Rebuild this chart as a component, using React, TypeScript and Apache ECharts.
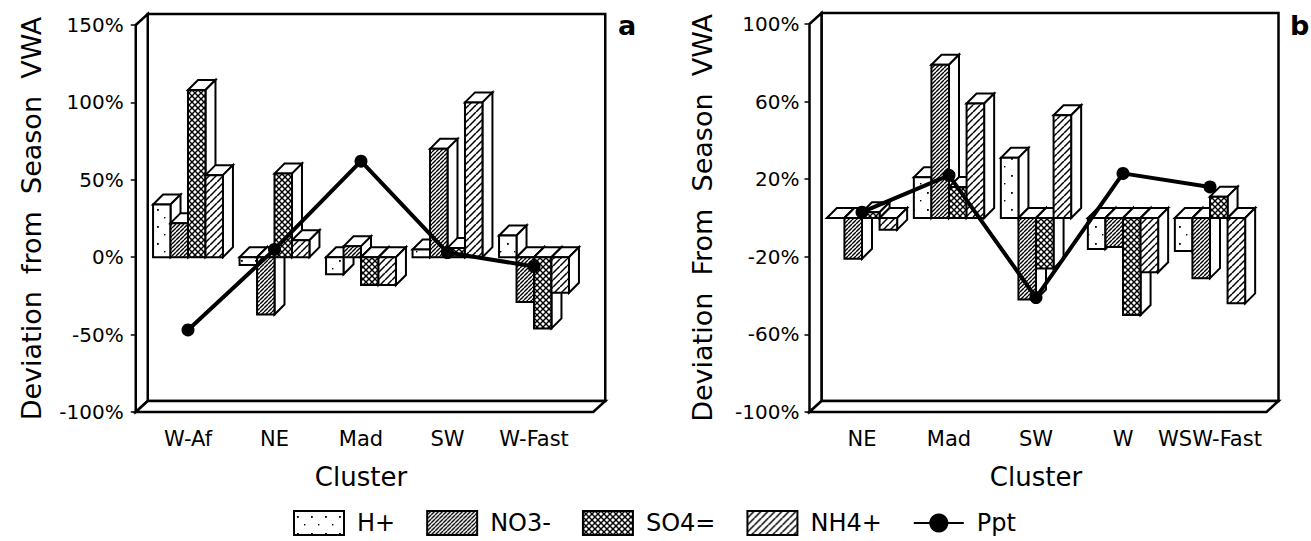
import { useEffect, useRef } from 'react';
import * as echarts from 'echarts';

const clustersA = ['W-Af', 'NE', 'Mad', 'SW', 'W-Fast'];
const hA = [34, -5, -11, 5, 14];
const no3A = [22, -37, 7, 70, -29];
const so4A = [108, 54, -18, 6, -46];
const nh4A = [53, 11, -18, 100, -23];
const pptA = [-47, 5, 62, 3, -6];

const clustersB = ['NE', 'Mad', 'SW', 'W', 'WSW-Fast'];
const hB = [0, 21, 31, -16, -17];
const no3B = [-21, 79, -42, -15, -31];
const so4B = [3, 16, -26, -50, 11];
const nh4B = [-6, 59, 53, -28, -44];
const pptB = [3, 22, -41, 23, 16];

const ionNames = ['H+', 'NO3-', 'SO4=', 'NH4+'];
const pptName = 'Ppt';
const yTicksB = [-100, -60, -20, 20, 60, 100];

const FONT = 'DejaVu Sans';

function makePattern(kind: string): any {
  const w = kind === 'h' ? 14 : kind === 'no3' ? 4 : kind === 'so4' ? 6 : 7;
  const h = kind === 'h' ? 17 : w;
  const c = document.createElement('canvas');
  c.width = w;
  c.height = h;
  const ctx = c.getContext('2d') as CanvasRenderingContext2D;
  ctx.fillStyle = '#fff';
  ctx.fillRect(0, 0, w, h);
  ctx.strokeStyle = '#000';
  ctx.fillStyle = '#000';
  const slash = (lw: number) => {
    ctx.lineWidth = lw;
    for (const k of [-w, 0, w]) {
      ctx.beginPath();
      ctx.moveTo(k, w);
      ctx.lineTo(k + w, 0);
      ctx.stroke();
    }
  };
  const back = (lw: number) => {
    ctx.lineWidth = lw;
    for (const k of [-w, 0, w]) {
      ctx.beginPath();
      ctx.moveTo(k, 0);
      ctx.lineTo(k + w, w);
      ctx.stroke();
    }
  };
  if (kind === 'h') {
    ctx.fillRect(3, 5, 1.8, 1.8);
    ctx.fillRect(10, 13, 1.4, 1.4);
  } else if (kind === 'no3') {
    slash(1.35);
  } else if (kind === 'so4') {
    slash(1.45);
    back(1.45);
  } else {
    slash(1.5);
  }
  return { image: c, repeat: 'repeat', imageWidth: w, imageHeight: h };
}

export default function App() {
  const ref = useRef<HTMLDivElement>(null);
  useEffect(() => {
    if (!ref.current) return;
    const chart = echarts.init(ref.current, undefined, { renderer: 'svg' });
    const patterns = [makePattern('h'), makePattern('no3'), makePattern('so4'), makePattern('nh4')];

    const BDX = 10, BDY = -10;
    const barRender = (k: number) => (params: any, api: any) => {
      const ci = api.value(0);
      const v = api.value(1);
      const p0 = api.coord([ci, 0]);
      const p1 = api.coord([ci, v]);
      const band = api.size([1, 0])[0];
      const bw = band * 0.202;
      const x0 = p0[0] + (k - 2) * bw;
      const x1 = x0 + bw;
      const yT = Math.min(p0[1], p1[1]);
      const yB = Math.max(p0[1], p1[1]);
      const st = { stroke: '#000', lineWidth: 2, lineJoin: 'miter' };
      return {
        type: 'group',
        children: [
          { type: 'polygon', shape: { points: [[x0, yT], [x0 + BDX, yT + BDY], [x1 + BDX, yT + BDY], [x1, yT]] }, style: { ...st, fill: '#fff' } },
          { type: 'polygon', shape: { points: [[x1, yT], [x1 + BDX, yT + BDY], [x1 + BDX, yB + BDY], [x1, yB]] }, style: { ...st, fill: '#fff' } },
          { type: 'rect', shape: { x: x0, y: yT, width: bw, height: yB - yT }, style: { ...st, fill: patterns[k] } },
        ],
      };
    };

    const frameRender = (leftPad: number, rightPad: number) => (params: any) => {
      const cs = params.coordSys;
      const fx0 = cs.x - leftPad;
      const fx1 = cs.x + cs.width + rightPad;
      const yt = cs.y;
      const yb = cs.y + cs.height;
      const dx = 12, dy = -11;
      const st = { stroke: '#000', lineWidth: 2.5, fill: '#fff', lineJoin: 'miter' };
      return {
        type: 'group',
        children: [
          { type: 'rect', shape: { x: fx0 + dx, y: yt + dy, width: fx1 - fx0, height: yb - yt }, style: st },
          { type: 'polygon', shape: { points: [[fx0, yt], [fx0 + dx, yt + dy], [fx0 + dx, yb + dy], [fx0, yb]] }, style: st },
          { type: 'polygon', shape: { points: [[fx0, yb], [fx0 + dx, yb + dy], [fx1 + dx, yb + dy], [fx1, yb]] }, style: st },
        ],
      };
    };

    const panels = [
      { cats: clustersA, ions: [hA, no3A, so4A, nh4A], ppt: pptA, leftPad: 9, rightPad: 16 },
      { cats: clustersB, ions: [hB, no3B, so4B, nh4B], ppt: pptB, leftPad: 9, rightPad: 13 },
    ];

    const series: any[] = [];
    panels.forEach((p, gi) => {
      series.push({
        type: 'custom',
        name: 'frame' + gi,
        xAxisIndex: gi,
        yAxisIndex: gi,
        silent: true,
        clip: false,
        z: 1,
        renderItem: frameRender(p.leftPad, p.rightPad),
        data: [[0, 0]],
      });
      p.ions.forEach((vals, k) => {
        series.push({
          type: 'custom',
          name: ionNames[k],
          xAxisIndex: gi,
          yAxisIndex: gi,
          clip: false,
          z: 2,
          itemStyle: { color: patterns[k], borderColor: '#000', borderWidth: 2 },
          renderItem: barRender(k),
          encode: { x: 0, y: 1 },
          data: vals.map((v, i) => [i, v]),
        });
      });
      series.push({
        type: 'line',
        name: pptName,
        xAxisIndex: gi,
        yAxisIndex: gi,
        z: 5,
        symbol: 'circle',
        symbolSize: 13,
        lineStyle: { color: '#000', width: 4 },
        itemStyle: { color: '#000' },
        data: p.ppt,
      });
    });

    const axisText = { color: '#000', fontFamily: FONT, fontSize: 20 };
    const xAxisCommon = (gi: number, cats: string[]) => ({
      type: 'category',
      gridIndex: gi,
      data: cats,
      axisLine: { show: false },
      axisTick: { show: true, alignWithLabel: true, length: 4, lineStyle: { color: '#000', width: 1.5 } },
      axisLabel: { ...axisText, fontSize: 21, margin: 16, interval: 0 },
      splitLine: { show: false },
      name: 'Cluster',
      nameLocation: 'middle',
      nameGap: 52,
      nameTextStyle: { color: '#000', fontFamily: FONT, fontSize: 26 },
    });

    const titleStyle = { fontFamily: FONT, fontSize: 27, fontWeight: 'bold', color: '#000' };
    const option: any = {
      animation: false,
      backgroundColor: '#fff',
      title: [
        { text: 'a', left: 618, top: 12, padding: 0, textStyle: titleStyle },
        { text: 'b', left: 1290, top: 12, padding: 0, textStyle: titleStyle },
      ],
      legend: {
        left: 293,
        top: 510,
        padding: 0,
        itemWidth: 50,
        itemHeight: 24,
        itemGap: 31,
        selectedMode: false,
        textStyle: { color: '#000', fontFamily: FONT, fontSize: 24, padding: [6, 0, 0, 8] },
        data: [
          { name: 'H+', icon: 'rect' },
          { name: 'NO3-', icon: 'rect' },
          { name: 'SO4=', icon: 'rect' },
          { name: 'NH4+', icon: 'rect' },
          { name: 'Ppt' },
        ],
      },
      grid: [
        { left: 144.75, top: 25, width: 432.5, height: 387, containLabel: false, outerBoundsMode: 'none' },
        { left: 818.5, top: 24, width: 435, height: 388, containLabel: false, outerBoundsMode: 'none' },
      ],
      xAxis: [xAxisCommon(0, clustersA), xAxisCommon(1, clustersB)],
      yAxis: [
        {
          type: 'value',
          gridIndex: 0,
          min: -100,
          max: 150,
          interval: 50,
          offset: 9,
          axisLine: { show: false },
          axisTick: { show: true, length: 5, lineStyle: { color: '#000', width: 1.5 } },
          axisLabel: { ...axisText, margin: 12, formatter: (v: number) => v + '%' },
          splitLine: { show: false },
          name: 'Deviation  from  Season  VWA',
          nameLocation: 'middle',
          nameRotate: 90,
          nameGap: 91,
          nameTextStyle: { color: '#000', fontFamily: FONT, fontSize: 27 },
        },
        {
          type: 'value',
          gridIndex: 1,
          min: -100,
          max: 100,
          offset: 9,
          axisLine: { show: false },
          axisTick: { show: true, length: 5, customValues: yTicksB, lineStyle: { color: '#000', width: 1.5 } },
          axisLabel: { ...axisText, margin: 10, customValues: yTicksB, formatter: (v: number) => v + '%' },
          splitLine: { show: false },
          name: 'Deviation  From  Season  VWA',
          nameLocation: 'middle',
          nameRotate: 90,
          nameGap: 94,
          nameTextStyle: { color: '#000', fontFamily: FONT, fontSize: 27 },
        },
      ],
      series,
    };
    chart.setOption(option);
    return () => chart.dispose();
  }, []);
  return <div ref={ref} style={{ position: 'fixed', left: 0, top: 0, width: 1311, height: 541 }} />;
}
